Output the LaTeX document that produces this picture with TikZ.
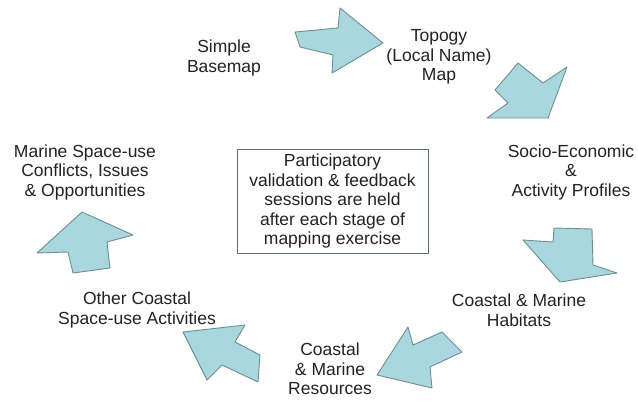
\documentclass[tikz,border=0pt]{standalone}
\usepackage{fontspec}
\setmainfont{Liberation Sans}
\definecolor{arrowfill}{HTML}{A8D8DE}
\definecolor{arrowline}{HTML}{6E8E90}
\definecolor{txt}{HTML}{222222}
\begin{document}
\begin{tikzpicture}[x=1pt,y=-1pt,
  lbl/.style={align=center,text=txt,font=\fontsize{17.5}{19.5}\selectfont,inner sep=0pt},
  blockarrow/.style={fill=arrowfill,draw=arrowline,line width=0.9pt,line join=round}]
\useasboundingbox (0,0) rectangle (638,400);
% block arrows
\draw[blockarrow] (295,32) -- (338,28) -- (340,8) -- (383,43) -- (332,73) -- (333,55) -- (300,47) -- cycle;
\draw[blockarrow] (518,63) -- (543,83) -- (567,67) -- (548,118) -- (487,118) -- (508,103) -- (495,90) -- cycle;
\draw[blockarrow] (554,228) -- (592,229) -- (593,265) -- (617,273) -- (560,282) -- (523,240) -- (553,242) -- cycle;
\draw[blockarrow] (377,375) -- (408,327) -- (413,345) -- (442,332) -- (462,352) -- (430,367) -- (432,388) -- cycle;
\draw[blockarrow] (183,332) -- (245,325) -- (235,342) -- (260,355) -- (258,382) -- (222,365) -- (207,380) -- cycle;
\draw[blockarrow] (82,212) -- (133,235) -- (107,242) -- (110,268) -- (73,273) -- (68,252) -- (37,253) -- cycle;
% labels
\node[lbl] (basemap) at (224,58) {Simple\\Basemap};
\node[lbl] (topogy) at (439,57) {Topogy\\(Local Name)\\Map};
\node[lbl] (socio) at (571,172) {Socio-Economic\\\&\\Activity Profiles};
\node[lbl] (habitats) at (519,310) {Coastal \& Marine\\Habitats};
\node[lbl] (resources) at (330,369) {Coastal\\\& Marine\\Resources};
\node[lbl] (other) at (137,310) {Other Coastal\\Space-use Activities};
\node[lbl] (conflicts) at (85,172) {Marine Space-use\\Conflicts, Issues\\\& Opportunities};
\node[lbl,draw=arrowline!80!black,line width=0.6pt,minimum width=191pt,minimum height=104pt] (center) at (332.5,201) {Participatory\\validation \& feedback\\sessions are held\\after each stage of\\mapping exercise};
\end{tikzpicture}
\end{document}
